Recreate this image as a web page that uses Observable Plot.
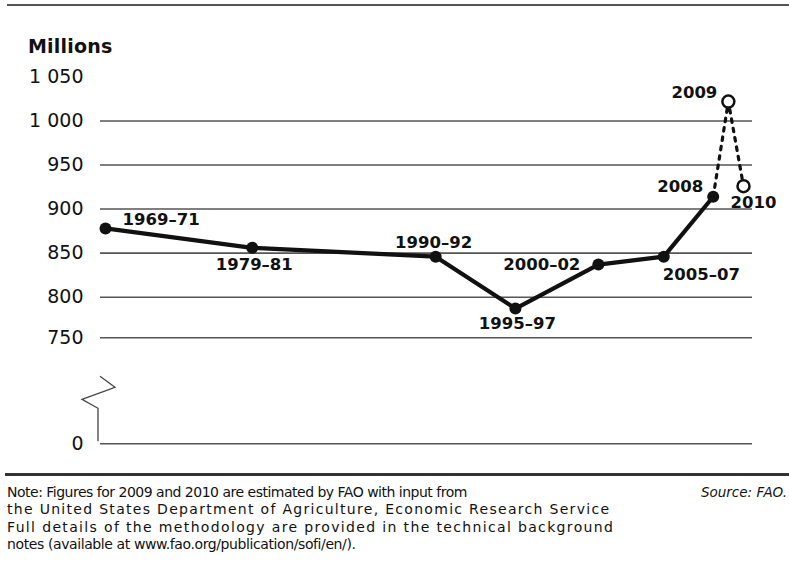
<!DOCTYPE html>
<html>
<head>
<meta charset="utf-8">
<script src="https://cdn.jsdelivr.net/npm/d3@7"></script>
<script src="https://cdn.jsdelivr.net/npm/@observablehq/plot@0.6"></script>
<style>
  html, body { margin: 0; padding: 0; background: #fff; }
  body { width: 789px; height: 562px; position: relative; overflow: hidden; font-family: "DejaVu Sans", sans-serif; color: #111; }
  #topline { position: absolute; left: 7px; top: 4px; width: 782px; height: 2px; background: #555; }
  #unit { position: absolute; left: 28px; top: 37px; font: bold 19px/19px "DejaVu Sans", sans-serif; color: #111; letter-spacing: 0.2px; }
  #chart { position: absolute; left: 0; top: 0; }
  #bottomline { position: absolute; left: 5px; top: 473px; width: 784px; height: 3px; background: #333; }
  #note { position: absolute; left: 7px; top: 484px; font: 14px/17.3px "DejaVu Sans", sans-serif; color: #111; white-space: nowrap; }
  #note div { height: 17.3px; }
  #source { position: absolute; right: 2px; top: 484px; font: italic 13.5px/17.3px "DejaVu Sans", sans-serif; color: #111; }
</style>
</head>
<body>
<div id="topline"></div>
<div id="chart"></div>
<div id="unit">Millions</div>
<div id="bottomline"></div>
<div id="note"></div>
<div id="source"></div>
<script>
// ---- data ----
const periods = ["1969–71", "1979–81", "1990–92", "1995–97", "2000–02", "2005–07", "2008", "2009", "2010"];
const xYear = [1970, 1979.2, 1990.7, 1995.7, 2000.9, 2005.0, 2008.1, 2009.05, 2010];
const undernourished = [878, 856, 846, 786, 837, 846, 914, 1022, 926];
const estimated = [false, false, false, false, false, false, false, true, true];

const yTicks = [0, 750, 800, 850, 900, 950, 1000, 1050];
const yTickLabels = ["0", "750", "800", "850", "900", "950", "1 000", "1 050"];
const gridValues = [0, 750, 800, 850, 900, 950, 1000];

const noteLines = [
  "Note: Figures for 2009 and 2010 are estimated by FAO with input from",
  "the United States Department of Agriculture, Economic Research Service",
  "Full details of the methodology are provided in the technical background",
  "notes (available at www.fao.org/publication/sofi/en/)."
];
const sourceText = "Source: FAO.";

// layout (not data)
const noteSpacing = [-0.5, 1.3, 1.35, -0.4];
const labelLayout = [
  {anchor: "start",  dx: 17,  dy: -9},
  {anchor: "middle", dx: 2,   dy: 17},
  {anchor: "middle", dx: -2,  dy: -14},
  {anchor: "middle", dx: 2,   dy: 15},
  {anchor: "end",    dx: -18, dy: 0},
  {anchor: "start",  dx: -1,  dy: 18},
  {anchor: "end",    dx: -10, dy: -10},
  {anchor: "end",    dx: -11, dy: -9},
  {anchor: "start",  dx: -13, dy: 17}
];

// broken axis: 0–750 compressed below the break (display units)
function broken(v) {
  if (v >= 800) return v;
  if (v >= 750) return 800 - (800 - v) * 0.9215;
  return 753.9 - (750 - v) * (120.3 / 750);
}

const rows = periods.map((p, i) => ({period: p, x: xYear[i], v: undernourished[i], est: estimated[i], ...labelLayout[i]}));
const solidRows = rows.filter(d => !d.est);
const dashRows = [solidRows[solidRows.length - 1], ...rows.filter(d => d.est)];
const estRows = rows.filter(d => d.est);

const labelMarks = rows.map(d => Plot.text([d], {
  x: "x", y: "v", text: "period", textAnchor: d.anchor, dx: d.dx, dy: d.dy,
  fontWeight: "bold", fontSize: 16.5, fill: "#111", lineAnchor: "middle"
}));

const breakShape = [[0, -67], [15, -56], [-18, -44], [-2, -35], [-2, -2]];
function axisBreak(index, scales, values, dimensions) {
  const x0 = dimensions.marginLeft, y0 = scales.y(broken(0));
  return d3.create("svg:path")
    .attr("d", d3.line()(breakShape.map(([dx, dy]) => [x0 + dx, y0 + dy])))
    .attr("fill", "none").attr("stroke", "#444").attr("stroke-width", 1.3)
    .node();
}

const plot = Plot.plot({
  width: 789,
  height: 470,
  marginLeft: 100,
  marginRight: 37,
  marginTop: 76.4,
  marginBottom: 26.7,
  style: {fontFamily: "DejaVu Sans", fontSize: "19px", color: "#111", background: "transparent"},
  x: {domain: [1969.686, 2010.564], axis: null},
  y: {transform: broken, domain: [broken(0), 1050], axis: null},
  marks: [
    Plot.ruleY(gridValues, {stroke: "#555", strokeWidth: 1.6}),
    Plot.axisY(yTicks, {tickSize: 0, tickPadding: 17, fontSize: 19, label: null,
      tickFormat: d => yTickLabels[yTicks.indexOf(d)]}),
    axisBreak,
    Plot.line(solidRows, {x: "x", y: "v", stroke: "#111", strokeWidth: 4.2, strokeLinejoin: "round"}),
    Plot.line(dashRows, {x: "x", y: "v", stroke: "#111", strokeWidth: 3.2, strokeDasharray: "3.5,6"}),
    Plot.dot(solidRows, {x: "x", y: "v", r: 6, fill: "#111"}),
    Plot.dot(estRows, {x: "x", y: "v", r: 6, fill: "#fff", stroke: "#111", strokeWidth: 2.5}),
    ...labelMarks
  ]
});
document.getElementById("chart").appendChild(plot);

const note = d3.select("#note");
noteLines.forEach((t, i) => note.append("div").style("letter-spacing", noteSpacing[i] + "px").text(t));
document.getElementById("source").textContent = sourceText;
</script>
</body>
</html>
